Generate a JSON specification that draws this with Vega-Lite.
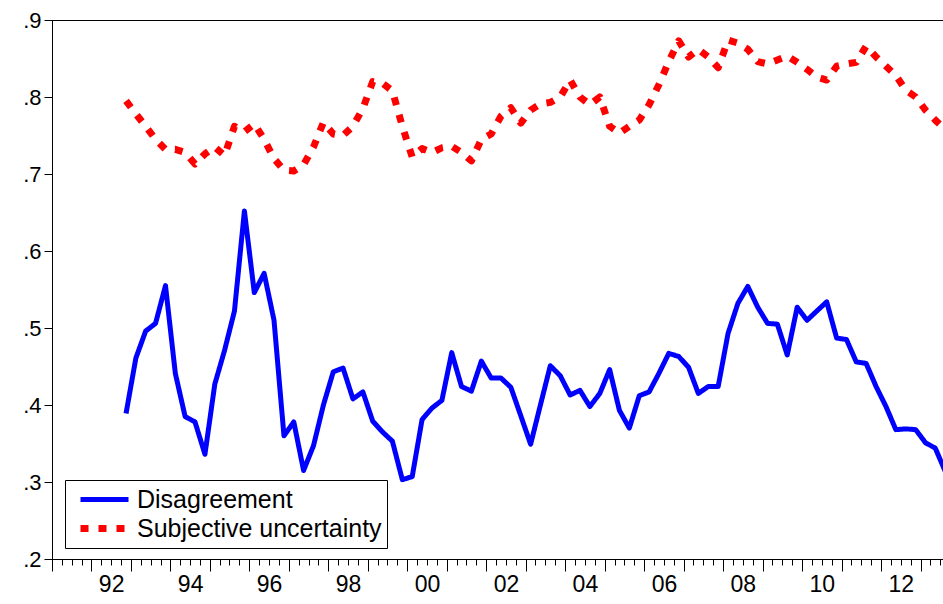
{
  "$schema": "https://vega.github.io/schema/vega-lite/v6.json",
  "width": 891,
  "height": 539,
  "autosize": {"type": "none"},
  "padding": {"left": 52, "top": 20, "right": 0, "bottom": 45},
  "background": "white",
  "config": {
    "view": {"stroke": "black", "strokeWidth": 1},
    "font": "Liberation Sans",
    "legend": {
      "orient": "none",
      "legendX": 13,
      "legendY": 460,
      "title": null,
      "strokeColor": "black",
      "fillColor": "white",
      "padding": 5,
      "symbolType": "M-2,0H2",
      "symbolSize": 576,
      "symbolOffset": 19,
      "labelOffset": 17,
      "labelFontSize": 25,
      "labelFont": "Liberation Sans",
      "labelColor": "black",
      "rowPadding": 0,
      "labelLimit": 400
    }
  },
  "data": {
    "values": [
      {"quarter": "1992-10-01", "Disagreement": 0.389, "Subjective uncertainty": 0.795},
      {"quarter": "1993-01-01", "Disagreement": 0.461, "Subjective uncertainty": 0.778},
      {"quarter": "1993-04-01", "Disagreement": 0.496, "Subjective uncertainty": 0.762},
      {"quarter": "1993-07-01", "Disagreement": 0.506, "Subjective uncertainty": 0.745},
      {"quarter": "1993-10-01", "Disagreement": 0.555, "Subjective uncertainty": 0.732},
      {"quarter": "1994-01-01", "Disagreement": 0.441, "Subjective uncertainty": 0.732},
      {"quarter": "1994-04-01", "Disagreement": 0.385, "Subjective uncertainty": 0.728},
      {"quarter": "1994-07-01", "Disagreement": 0.378, "Subjective uncertainty": 0.713},
      {"quarter": "1994-10-01", "Disagreement": 0.336, "Subjective uncertainty": 0.726},
      {"quarter": "1995-01-01", "Disagreement": 0.427, "Subjective uncertainty": 0.735},
      {"quarter": "1995-04-01", "Disagreement": 0.471, "Subjective uncertainty": 0.724},
      {"quarter": "1995-07-01", "Disagreement": 0.522, "Subjective uncertainty": 0.762},
      {"quarter": "1995-10-01", "Disagreement": 0.652, "Subjective uncertainty": 0.755},
      {"quarter": "1996-01-01", "Disagreement": 0.546, "Subjective uncertainty": 0.765},
      {"quarter": "1996-04-01", "Disagreement": 0.571, "Subjective uncertainty": 0.745},
      {"quarter": "1996-07-01", "Disagreement": 0.510, "Subjective uncertainty": 0.720},
      {"quarter": "1996-10-01", "Disagreement": 0.360, "Subjective uncertainty": 0.705},
      {"quarter": "1997-01-01", "Disagreement": 0.378, "Subjective uncertainty": 0.704},
      {"quarter": "1997-04-01", "Disagreement": 0.315, "Subjective uncertainty": 0.712},
      {"quarter": "1997-07-01", "Disagreement": 0.347, "Subjective uncertainty": 0.735},
      {"quarter": "1997-10-01", "Disagreement": 0.400, "Subjective uncertainty": 0.767},
      {"quarter": "1998-01-01", "Disagreement": 0.443, "Subjective uncertainty": 0.752},
      {"quarter": "1998-04-01", "Disagreement": 0.448, "Subjective uncertainty": 0.750},
      {"quarter": "1998-07-01", "Disagreement": 0.408, "Subjective uncertainty": 0.762},
      {"quarter": "1998-10-01", "Disagreement": 0.417, "Subjective uncertainty": 0.785},
      {"quarter": "1999-01-01", "Disagreement": 0.379, "Subjective uncertainty": 0.820},
      {"quarter": "1999-04-01", "Disagreement": 0.365, "Subjective uncertainty": 0.818},
      {"quarter": "1999-07-01", "Disagreement": 0.353, "Subjective uncertainty": 0.808},
      {"quarter": "1999-10-01", "Disagreement": 0.303, "Subjective uncertainty": 0.762},
      {"quarter": "2000-01-01", "Disagreement": 0.307, "Subjective uncertainty": 0.722},
      {"quarter": "2000-04-01", "Disagreement": 0.381, "Subjective uncertainty": 0.733},
      {"quarter": "2000-07-01", "Disagreement": 0.396, "Subjective uncertainty": 0.728},
      {"quarter": "2000-10-01", "Disagreement": 0.406, "Subjective uncertainty": 0.734},
      {"quarter": "2001-01-01", "Disagreement": 0.468, "Subjective uncertainty": 0.736},
      {"quarter": "2001-04-01", "Disagreement": 0.424, "Subjective uncertainty": 0.728},
      {"quarter": "2001-07-01", "Disagreement": 0.418, "Subjective uncertainty": 0.717},
      {"quarter": "2001-10-01", "Disagreement": 0.457, "Subjective uncertainty": 0.745},
      {"quarter": "2002-01-01", "Disagreement": 0.435, "Subjective uncertainty": 0.752},
      {"quarter": "2002-04-01", "Disagreement": 0.435, "Subjective uncertainty": 0.775},
      {"quarter": "2002-07-01", "Disagreement": 0.423, "Subjective uncertainty": 0.786},
      {"quarter": "2002-10-01", "Disagreement": 0.386, "Subjective uncertainty": 0.766},
      {"quarter": "2003-01-01", "Disagreement": 0.349, "Subjective uncertainty": 0.783},
      {"quarter": "2003-04-01", "Disagreement": 0.400, "Subjective uncertainty": 0.791},
      {"quarter": "2003-07-01", "Disagreement": 0.451, "Subjective uncertainty": 0.793},
      {"quarter": "2003-10-01", "Disagreement": 0.438, "Subjective uncertainty": 0.800},
      {"quarter": "2004-01-01", "Disagreement": 0.413, "Subjective uncertainty": 0.822},
      {"quarter": "2004-04-01", "Disagreement": 0.419, "Subjective uncertainty": 0.800},
      {"quarter": "2004-07-01", "Disagreement": 0.398, "Subjective uncertainty": 0.790},
      {"quarter": "2004-10-01", "Disagreement": 0.415, "Subjective uncertainty": 0.800},
      {"quarter": "2005-01-01", "Disagreement": 0.446, "Subjective uncertainty": 0.762},
      {"quarter": "2005-04-01", "Disagreement": 0.393, "Subjective uncertainty": 0.753},
      {"quarter": "2005-07-01", "Disagreement": 0.370, "Subjective uncertainty": 0.762},
      {"quarter": "2005-10-01", "Disagreement": 0.412, "Subjective uncertainty": 0.770},
      {"quarter": "2006-01-01", "Disagreement": 0.417, "Subjective uncertainty": 0.790},
      {"quarter": "2006-04-01", "Disagreement": 0.441, "Subjective uncertainty": 0.816},
      {"quarter": "2006-07-01", "Disagreement": 0.467, "Subjective uncertainty": 0.846},
      {"quarter": "2006-10-01", "Disagreement": 0.463, "Subjective uncertainty": 0.873},
      {"quarter": "2007-01-01", "Disagreement": 0.449, "Subjective uncertainty": 0.852},
      {"quarter": "2007-04-01", "Disagreement": 0.415, "Subjective uncertainty": 0.862},
      {"quarter": "2007-07-01", "Disagreement": 0.424, "Subjective uncertainty": 0.852},
      {"quarter": "2007-10-01", "Disagreement": 0.424, "Subjective uncertainty": 0.838},
      {"quarter": "2008-01-01", "Disagreement": 0.493, "Subjective uncertainty": 0.874},
      {"quarter": "2008-04-01", "Disagreement": 0.532, "Subjective uncertainty": 0.870},
      {"quarter": "2008-07-01", "Disagreement": 0.554, "Subjective uncertainty": 0.862},
      {"quarter": "2008-10-01", "Disagreement": 0.527, "Subjective uncertainty": 0.846},
      {"quarter": "2009-01-01", "Disagreement": 0.506, "Subjective uncertainty": 0.843},
      {"quarter": "2009-04-01", "Disagreement": 0.505, "Subjective uncertainty": 0.848},
      {"quarter": "2009-07-01", "Disagreement": 0.465, "Subjective uncertainty": 0.853},
      {"quarter": "2009-10-01", "Disagreement": 0.527, "Subjective uncertainty": 0.845},
      {"quarter": "2010-01-01", "Disagreement": 0.510, "Subjective uncertainty": 0.836},
      {"quarter": "2010-04-01", "Disagreement": 0.522, "Subjective uncertainty": 0.826},
      {"quarter": "2010-07-01", "Disagreement": 0.534, "Subjective uncertainty": 0.822},
      {"quarter": "2010-10-01", "Disagreement": 0.487, "Subjective uncertainty": 0.840},
      {"quarter": "2011-01-01", "Disagreement": 0.485, "Subjective uncertainty": 0.843},
      {"quarter": "2011-04-01", "Disagreement": 0.456, "Subjective uncertainty": 0.845},
      {"quarter": "2011-07-01", "Disagreement": 0.454, "Subjective uncertainty": 0.866},
      {"quarter": "2011-10-01", "Disagreement": 0.424, "Subjective uncertainty": 0.852},
      {"quarter": "2012-01-01", "Disagreement": 0.398, "Subjective uncertainty": 0.840},
      {"quarter": "2012-04-01", "Disagreement": 0.368, "Subjective uncertainty": 0.828},
      {"quarter": "2012-07-01", "Disagreement": 0.369, "Subjective uncertainty": 0.809},
      {"quarter": "2012-10-01", "Disagreement": 0.368, "Subjective uncertainty": 0.800},
      {"quarter": "2013-01-01", "Disagreement": 0.351, "Subjective uncertainty": 0.783},
      {"quarter": "2013-04-01", "Disagreement": 0.344, "Subjective uncertainty": 0.770},
      {"quarter": "2013-07-01", "Disagreement": 0.314, "Subjective uncertainty": 0.758}
    ]
  },
  "transform": [
    {"fold": ["Disagreement", "Subjective uncertainty"], "as": ["series", "value"]}
  ],
  "mark": {"type": "line", "clip": true, "strokeCap": "butt", "strokeJoin": "round"},
  "encoding": {
    "x": {
      "field": "quarter",
      "type": "temporal",
      "timeUnit": "utcyearquarter",
      "bandPosition": 0.5,
      "scale": {
        "type": "utc",
        "domain": [
          {"year": 1991, "month": 1, "date": 1, "utc": true},
          {"year": 2013, "month": 7, "date": 27, "utc": true}
        ]
      },
      "axis": {
        "title": null,
        "grid": false,
        "tickCount": {"interval": "month", "step": 3},
        "tickSize": {"condition": {"test": "utcmonth(datum.value) == 0", "value": 12}, "value": 6},
        "tickColor": "black",
        "domainColor": "black",
        "labelExpr": "utcmonth(datum.value) == 0 && utcyear(datum.value) % 2 == 0 ? utcFormat(datum.value, '%y') : ''",
        "labelOffset": 19.7,
        "labelPadding": 2,
        "labelFontSize": 23,
        "labelFont": "Liberation Sans",
        "labelColor": "black",
        "labelOverlap": false,
        "labelBound": false,
        "labelFlush": false
      }
    },
    "y": {
      "field": "value",
      "type": "quantitative",
      "scale": {"domain": [0.2, 0.9], "nice": false, "zero": false},
      "axis": {
        "title": null,
        "grid": false,
        "values": [0.2, 0.3, 0.4, 0.5, 0.6, 0.7, 0.8, 0.9],
        "labelExpr": "replace(format(datum.value, '.1f'), '0.', '.')",
        "tickSize": 8,
        "tickColor": "black",
        "domainColor": "black",
        "labelPadding": 3,
        "labelFontSize": 22,
        "labelFont": "Liberation Sans",
        "labelColor": "black"
      }
    },
    "color": {
      "field": "series",
      "type": "nominal",
      "scale": {"domain": ["Disagreement", "Subjective uncertainty"], "range": ["#0000ff", "#ff0000"]}
    },
    "strokeDash": {
      "field": "series",
      "type": "nominal",
      "scale": {"domain": ["Disagreement", "Subjective uncertainty"], "range": [[1, 0], [8, 10]]}
    },
    "strokeWidth": {
      "field": "series",
      "type": "ordinal",
      "scale": {"domain": ["Disagreement", "Subjective uncertainty"], "range": [5, 7]}
    }
  }
}
